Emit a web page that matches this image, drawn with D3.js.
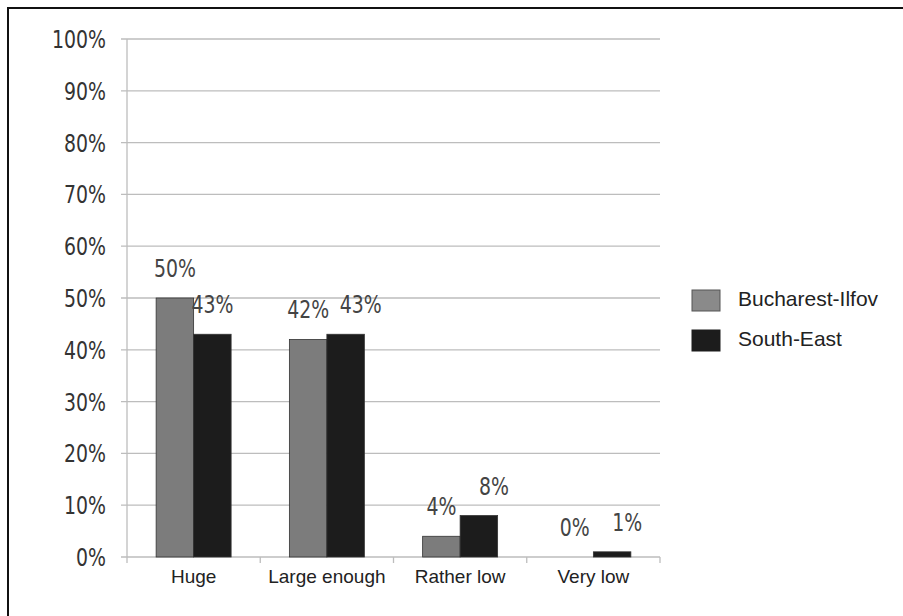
<!DOCTYPE html>
<html>
<head>
<meta charset="utf-8">
<script src="https://cdn.jsdelivr.net/npm/d3@7/dist/d3.min.js"></script>
<style>
  html, body { margin: 0; padding: 0; background: #fff; }
  svg { display: block; }
</style>
</head>
<body>
<svg id="chart" width="903" height="616"></svg>
<script>
// Perception of the level of the amount, by region
const categories = ["Huge", "Large enough", "Rather low", "Very low"];
const seriesNames = ["Bucharest-Ilfov", "South-East"];
const bucharestIlfov = [50, 42, 4, 0];
const southEast = [43, 43, 8, 1];
const yTicks = [0, 10, 20, 30, 40, 50, 60, 70, 80, 90, 100];
const seriesColors = ["#7c7c7c", "#1c1c1c"];

const seriesValues = [bucharestIlfov, southEast];
const rows = categories.map((c, i) => ({
  category: c,
  values: seriesNames.map((s, j) => ({ series: s, value: seriesValues[j][i], idx: j }))
}));

const svg = d3.select("#chart");
const narrow = "'DejaVu Sans Condensed', 'DejaVu Sans', sans-serif";
const sans = "'Liberation Sans', Arial, sans-serif";
const squeeze = 0.84; // horizontal compression for the numeric labels

// Frame (left and top edges)
svg.append("path")
  .attr("d", "M8,616 L8,8 L903,8")
  .attr("fill", "none").attr("stroke", "#111").attr("stroke-width", 2);

const plotLeft = 127, plotRight = 660, plotTop = 39, plotBottom = 557;

const x0 = d3.scaleBand().domain(categories).range([plotLeft, plotRight]).paddingInner(0).paddingOuter(0);
const x1 = d3.scaleBand().domain(seriesNames).range([0, x0.bandwidth()]).paddingInner(0).paddingOuter(0.777);
const y = d3.scaleLinear().domain([0, 100]).range([plotBottom, plotTop]);
const color = d3.scaleOrdinal().domain(seriesNames).range(seriesColors);

// Horizontal gridlines with left tick stubs
svg.append("g").selectAll("line").data(yTicks).join("line")
  .attr("x1", plotLeft - 6).attr("x2", plotRight)
  .attr("y1", d => y(d)).attr("y2", d => y(d))
  .attr("stroke", "#bdbdbd").attr("stroke-width", 1.3);

// Y axis tick labels (condensed, right-aligned)
svg.append("g").selectAll("text").data(yTicks).join("text")
  .attr("transform", d => `translate(${plotLeft - 21},${y(d) + 9}) scale(${squeeze},1)`)
  .attr("text-anchor", "end")
  .attr("font-family", narrow).attr("font-size", 25).attr("fill", "#333")
  .text(d => d + "%");

svg.append("line")
  .attr("x1", plotLeft).attr("x2", plotLeft).attr("y1", plotTop).attr("y2", plotBottom + 6)
  .attr("stroke", "#bdbdbd").attr("stroke-width", 1.3);

// X axis: category boundary ticks and labels
const boundaries = categories.map(c => x0(c)).concat([plotRight]).slice(1);
svg.append("g").selectAll("line").data(boundaries).join("line")
  .attr("x1", d => d).attr("x2", d => d)
  .attr("y1", plotBottom).attr("y2", plotBottom + 6)
  .attr("stroke", "#bdbdbd").attr("stroke-width", 1.3);

const xAxis = d3.axisBottom(x0).tickSize(0).tickPadding(0);
const gx = svg.append("g").attr("transform", `translate(0,${plotBottom})`).call(xAxis);
gx.select(".domain").remove();
gx.selectAll("text")
  .attr("font-family", sans).attr("font-size", 19).attr("fill", "#222")
  .attr("y", 26).attr("dy", 0);

// Bars
const groups = svg.append("g").selectAll("g").data(rows).join("g")
  .attr("transform", d => `translate(${x0(d.category)},0)`);

groups.selectAll("rect").data(d => d.values).join("rect")
  .attr("x", d => x1(d.series))
  .attr("width", x1.bandwidth())
  .attr("y", d => y(d.value))
  .attr("height", d => plotBottom - y(d.value))
  .attr("fill", d => color(d.series))
  .attr("stroke", "#333").attr("stroke-width", d => d.value > 0 ? 0.8 : 0);

// Value labels; the right label slides over when it would collide with its neighbour
function labelShift(d, parent) {
  if (d.idx !== 1) return 0;
  const other = parent.values[0];
  return Math.abs(y(other.value) - y(d.value)) < 22 ? 15 : 0;
}
groups.each(function (row) {
  d3.select(this).selectAll("text").data(row.values).join("text")
    .attr("transform", d =>
      `translate(${x1(d.series) + x1.bandwidth() / 2 + labelShift(d, row)},${y(d.value) - 21}) scale(${squeeze},1)`)
    .attr("text-anchor", "middle")
    .attr("font-family", narrow).attr("font-size", 25).attr("fill", "#444")
    .text(d => d.value + "%");
});

// Legend
const legend = svg.append("g").attr("transform", "translate(692,290)");
const items = legend.selectAll("g").data(seriesNames).join("g")
  .attr("transform", (d, i) => `translate(0,${i * 40})`);
items.append("rect")
  .attr("width", 28).attr("height", 21)
  .attr("fill", (d, i) => i === 0 ? "#8a8a8a" : color(d))
  .attr("stroke", (d, i) => i === 0 ? "#555" : "#1c1c1c").attr("stroke-width", 1);
items.append("text")
  .attr("x", 46).attr("y", 16)
  .attr("font-family", sans).attr("font-size", 21).attr("fill", "#222")
  .text(d => d);
</script>
</body>
</html>
